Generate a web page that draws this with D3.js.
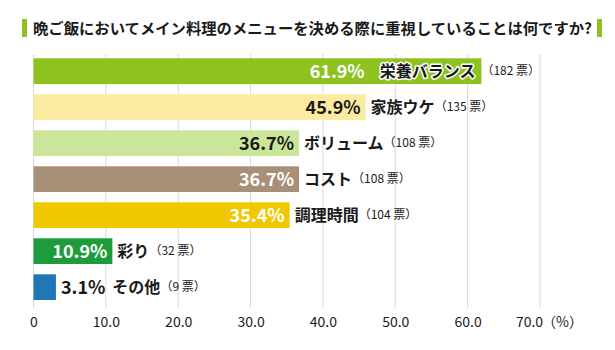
<!DOCTYPE html>
<html>
<head>
<meta charset="utf-8">
<script src="https://cdn.jsdelivr.net/npm/d3@7"></script>
<style>
  body { margin: 0; background: #fff; }
  text { font-family: "Noto Sans CJK JP", "Noto Sans", sans-serif; }
</style>
</head>
<body>
<div id="chart-area"></div>
<script>
const title = '晩ご飯においてメイン料理のメニューを決める際に重視していることは何ですか?';
const categories = ['栄養バランス', '家族ウケ', 'ボリューム', 'コスト', '調理時間', '彩り', 'その他'];
const percents = [61.9, 45.9, 36.7, 36.7, 35.4, 10.9, 3.1];
const votes = [182, 135, 108, 108, 104, 32, 9];
const barColors = ['#8dc21f', '#fbeba0', '#cbe69a', '#a89078', '#f0c800', '#1e9c3c', '#2176b8'];
const xTicks = [0, 10, 20, 30, 40, 50, 60, 70];
const unitLabel = '（%）';

const width = 615, height = 350;
const accent = '#8dc21f', ink = '#1a1a1a';

let svg = d3.select('#chart-area')
  .append('svg')
  .attr('width', width)
  .attr('height', height)

// title with green markers on both sides
svg.append('rect').attr('x', 22).attr('y', 19).attr('width', 5).attr('height', 18).attr('fill', accent)
svg.append('rect').attr('x', 597).attr('y', 19).attr('width', 5).attr('height', 18).attr('fill', accent)
svg.append('text')
  .attr('x', 33).attr('y', 34)
  .attr('textLength', 559).attr('lengthAdjust', 'spacingAndGlyphs')
  .style('font-size', '15px').style('font-weight', 'bold').attr('fill', ink)
  .text(title)

let x = d3.scaleLinear()
  .domain([0, 70])
  .range([33.5, 540])

let y = d3.scaleBand()
  .domain(categories)
  .range([54, 308])
  .paddingInner(0.286)
  .paddingOuter(0.171)
  .align(0.35)

// grid
svg.append('g')
  .selectAll('line')
  .data(xTicks)
  .join('line')
  .attr('x1', d => x(d)).attr('x2', d => x(d))
  .attr('y1', y.range()[0]).attr('y2', y.range()[1])
  .attr('stroke', '#d9d9d9')
  .attr('stroke-width', 1)

// axis
let axis = svg.append('g')
  .attr('transform', `translate(0, ${y.range()[1]})`)
  .call(d3.axisBottom(x)
    .tickValues(xTicks)
    .tickSize(0)
    .tickPadding(9)
    .tickFormat(d => d === 0 ? '0' : d3.format('.1f')(d)))

axis.select('.domain').remove()
axis.selectAll('text')
  .style('font-size', '14px')
  .attr('fill', ink)
  .attr('font-family', null)
// last label shifted left to make room for the unit
axis.selectAll('.tick').filter(d => d === xTicks[xTicks.length - 1])
  .select('text').attr('dx', -11)
axis.append('text')
  .attr('x', x(xTicks[xTicks.length - 1]) + 2)
  .attr('y', 9).attr('dy', '0.71em')
  .attr('text-anchor', 'start')
  .style('font-size', '14px')
  .attr('fill', ink)
  .text(unitLabel)

// bars
let rows = categories.map((c, i) => ({ cat: c, pct: percents[i], votes: votes[i], color: barColors[i] }))

svg.append('g')
  .selectAll('rect')
  .data(rows)
  .join('rect')
  .attr('x', x(0))
  .attr('y', d => y(d.cat))
  .attr('width', d => x(d.pct) - x(0))
  .attr('height', y.bandwidth())
  .attr('fill', d => d.color)

// labels
let labels = svg.append('g')
  .selectAll('g')
  .data(rows)
  .join('g')
  .attr('transform', d => `translate(0, ${y(d.cat) + y.bandwidth() / 2})`)

labels.each(function(d) {
  let g = d3.select(this)
  let bx = x(d.pct)

  let val = g.append('text')
    .attr('dy', '0.36em')
    .style('font-size', '18px').style('font-weight', 'bold')
    .text(d3.format('.1f')(d.pct) + '%')
  let cat = g.append('text')
    .attr('dy', '0.36em')
    .style('font-size', '16px').style('font-weight', 'bold')
    .attr('fill', ink)
    .text(d.cat)
  let vt = g.append('text')
    .attr('dy', '0.36em')
    .style('font-size', '12px')
    .attr('fill', ink)
    .text(`（${d.votes} 票）`)

  let vw = val.node().getComputedTextLength()
  let cw = cat.node().getComputedTextLength()
  let tw = vt.node().getComputedTextLength()
  let light = d3.hsl(d.color).l > 0.7

  if (bx + 5 + cw + tw > width) {
    // category does not fit outside: put it inside the bar with a halo
    cat.attr('x', bx - 6 - cw)
      .attr('stroke', '#fff').attr('stroke-width', 3).attr('paint-order', 'stroke')
      .attr('stroke-linejoin', 'round')
    val.attr('x', bx - 6 - cw - 15 - vw).attr('fill', light ? ink : '#fff')
    vt.attr('x', bx + 0)
  } else if (vw + 8 > bx - x(0)) {
    // bar too short: value outside
    val.attr('x', bx + 5).attr('fill', ink)
    cat.attr('x', bx + 5 + vw + 7)
    vt.attr('x', bx + 5 + vw + 7 + cw)
  } else {
    val.attr('x', bx - 5 - vw).attr('fill', light ? ink : '#fff')
    cat.attr('x', bx + 5)
    vt.attr('x', bx + 5 + cw)
  }
})
</script>
</body>
</html>
